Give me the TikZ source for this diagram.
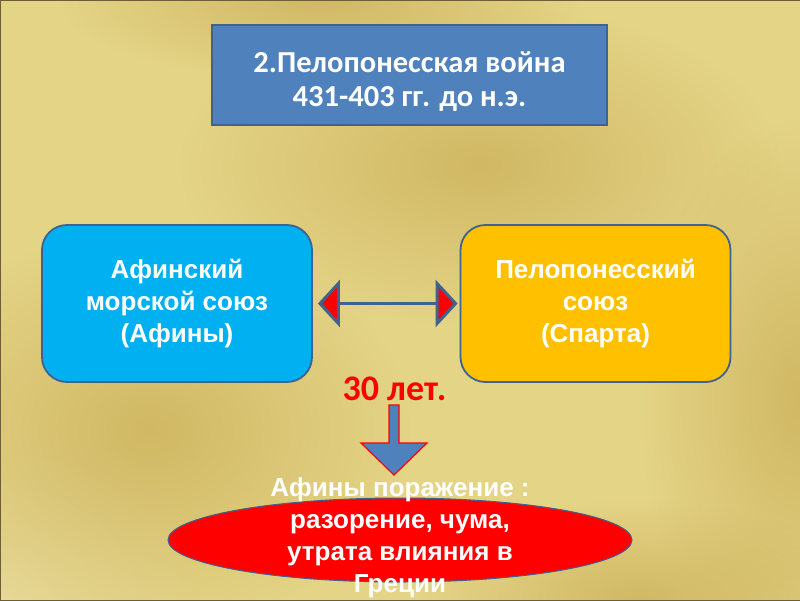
\documentclass[tikz,border=0pt]{standalone}
\usepackage{fontspec}
\setmainfont{Carlito}
\newfontfamily\boxfont{Liberation Sans}
\usetikzlibrary{shapes.geometric,arrows.meta,positioning,fadings}

\definecolor{titleblue}{HTML}{4F81BD}
\definecolor{edgeblue}{HTML}{3F6391}
\definecolor{leaguecyan}{HTML}{00B0F0}
\definecolor{leagueorange}{HTML}{FFC000}
\definecolor{goldlight}{HTML}{E4D486}
\definecolor{goldpale}{HTML}{E8DCA0}
\definecolor{golddark}{HTML}{C6A952}
\definecolor{framebrown}{HTML}{6E5E37}

\tikzfading[name=goldblob, inner color=transparent!35, outer color=transparent!100]

\begin{document}
\begin{tikzpicture}[
  x=1pt, y=-1pt,
  txt/.style={text=white, font=\boxfont\fontsize{26}{32}\selectfont\bfseries, align=center},
  union/.style={txt, draw=edgeblue, line width=1.8pt, rounded corners=25pt, minimum width=270pt, minimum height=157pt},
  dblarr/.style={{Triangle[length=22pt, width=47pt, fill=red]}-{Triangle[length=22pt, width=47pt, fill=red]}, draw=edgeblue, line width=3pt},
  blob/.style={golddark, path fading=goldblob}
]
  % background
  \useasboundingbox (0,0) rectangle (800,600);
  \fill[goldlight] (0,0) rectangle (800,600);
  \fill[goldpale, path fading=goldblob] (0,600) ellipse (220 and 180);
  \fill[blob] (480,165) ellipse (300 and 160);
  \fill[blob] (150,430) ellipse (260 and 200);
  \fill[blob] (320,0) ellipse (260 and 80);
  \fill[blob] (800,400) ellipse (160 and 280);
  \fill[blob] (640,600) ellipse (220 and 100);
  \draw[framebrown, line width=1pt] (0,0) rectangle (800,600);

  % boxes
  \node[fill=titleblue, draw=edgeblue, line width=1.5pt, minimum width=395pt, minimum height=100pt] (war) at (409.5,75) {};
  \node[text=white, font=\fontsize{30.5}{34}\selectfont\bfseries, align=center] (wartext) at (409.5,82) {2.Пелопонесская война\\431-403 гг. до н.э.};
  \node[union, fill=leaguecyan] (athens) at (177,303.5) {Афинский\\морской союз\\(Афины)};
  \node[union, fill=leagueorange] (sparta) at (595.5,303.5) {Пелопонесский\\союз\\(Спарта)};
  \node[text=red, font=\fontsize{36}{40}\selectfont\bfseries] (years) at (394.5,389) {30 лет.};

  % result
  \node[ellipse, fill=red, draw=edgeblue, line width=1pt, minimum width=464pt, minimum height=84pt, inner sep=0pt] (defeat) at (400,540) {};
  \node[txt] (defeattext) at (400,538) {Афины поражение :\\разорение, чума,\\утрата влияния в\\Греции};

  % arrows
  \draw[dblarr, shorten <=5pt, shorten >=2pt] (athens) -- (sparta);
  \draw[fill=titleblue, draw=red, line width=1.2pt] (389,405) -- (399,405) -- (399,443) -- (427,443) -- (394,475) -- (361,443) -- (389,443) -- cycle;
\end{tikzpicture}
\end{document}
